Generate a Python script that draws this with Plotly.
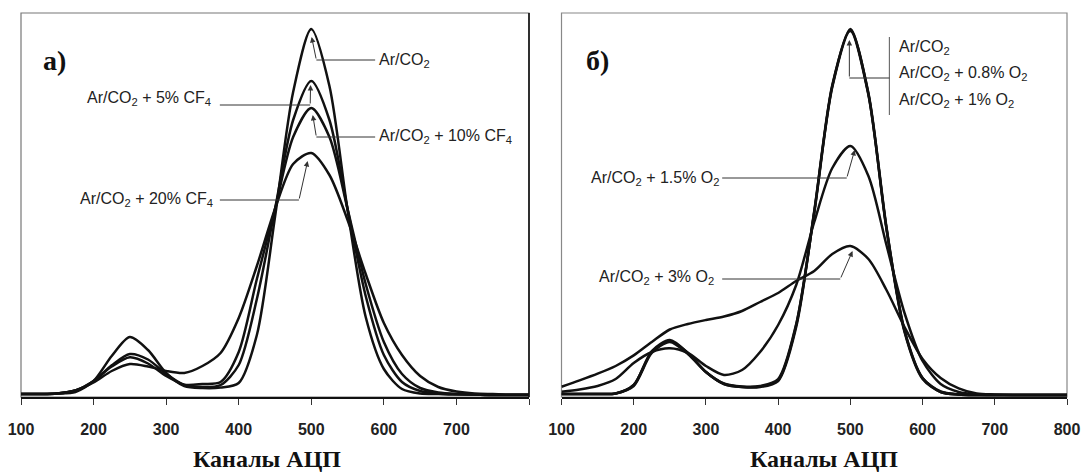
import plotly.graph_objects as go
from plotly.subplots import make_subplots

# ---------------- data (arbitrary counts) ----------------
channels = [100, 125, 150, 175, 200, 225, 250, 275, 300, 325, 350, 375, 400, 425, 450,
            475, 500, 525, 550, 575, 600, 625, 650, 675, 700, 725, 750, 775, 800]

# panel a) : CF4 admixtures
a_arco2 = [3, 3, 3.5, 5, 16, 41, 60, 47, 24, 11, 9, 9.5, 14, 62, 180, 305, 368, 311, 187, 80, 28, 8, 3.5, 3, 2.5, 2.5, 2, 2, 2]
a_cf4_5 = [3, 3, 3.5, 6.5, 15.6, 31.7, 43, 37.5, 23, 12, 10, 12, 32, 98, 188, 277, 316, 277, 188, 101, 42, 15, 6, 3.5, 3, 2.5, 2, 2, 2]
a_cf4_10 = [3, 3, 3.5, 6.5, 16, 30.5, 39.7, 33.5, 21, 12.4, 13, 15, 45, 118, 188, 260, 289, 260, 188, 113, 55, 23, 9, 4.5, 3, 2.5, 2, 2, 2]
a_cf4_20 = [3, 3, 3.5, 6.5, 14.5, 26, 33, 30.5, 26, 24, 31, 44, 79, 131, 188, 233, 244, 222, 177, 123, 74, 42, 21, 10, 5.5, 3.5, 3, 2.5, 2.5]

# panel б) : O2 admixtures
b_arco2 = [3, 3, 3, 3.5, 12, 46, 57, 44, 25, 13, 10, 10, 16, 70, 185, 311, 368, 303, 168, 65, 18, 5, 2.5, 2, 2, 2, 2, 2, 2]
b_o2_08 = [3, 3, 3, 3.5, 12, 45, 56, 44, 25, 13, 10, 10.5, 17, 72, 186, 312, 367, 304, 170, 66, 19, 5, 2.5, 2, 2, 2, 2, 2, 2]
b_o2_1 = [3, 3, 3, 3.5, 11, 44, 55, 43, 25, 13.5, 10.5, 11, 18, 73, 184, 310, 366, 302, 169, 67, 19, 5.5, 2.5, 2, 2, 2, 2, 2, 2]
b_o2_15 = [5.3, 7.5, 11, 18, 34, 45, 48.7, 44, 31, 22, 27, 45, 72, 112, 175, 229, 251, 221, 152, 84, 36, 13, 5, 2.5, 2, 2, 2, 2, 2]
b_o2_3 = [10.3, 16.6, 23.3, 31, 41.6, 55, 67.5, 73, 77, 80.5, 86, 95, 104, 116, 126, 143, 151, 138, 107, 70, 38, 19, 8.6, 3.5, 2.5, 2, 2, 2, 2]

tick_vals = [100, 200, 300, 400, 500, 600, 700, 800]
tick_text_a = ["100", "200", "300", "400", "500", "600", "700", ""]
tick_text_b = ["100", "200", "300", "400", "500", "600", "700", "800"]

series_a = [("Ar/CO2", a_arco2), ("Ar/CO2 + 5% CF4", a_cf4_5),
            ("Ar/CO2 + 10% CF4", a_cf4_10), ("Ar/CO2 + 20% CF4", a_cf4_20)]
series_b = [("Ar/CO2", b_arco2), ("Ar/CO2 + 0.8% O2", b_o2_08), ("Ar/CO2 + 1% O2", b_o2_1),
            ("Ar/CO2 + 1.5% O2", b_o2_15), ("Ar/CO2 + 3% O2", b_o2_3)]

x_title = "Каналы АЦП"

# ---------------- figure ----------------
W, H = 1083, 475
ML, MR, MT, MB = 21, 16, 13, 78
plot_w = W - ML - MR
dom_a = [0.0, (529 - ML) / plot_w]
dom_b = [(561.5 - ML) / plot_w, 1.0]

fig = make_subplots(rows=1, cols=2)
fig.update_xaxes(domain=dom_a, row=1, col=1)
fig.update_xaxes(domain=dom_b, row=1, col=2)

LINE = dict(color="#111111", width=2.5, shape="spline", smoothing=0.8)
for name, ys in series_a:
    fig.add_trace(go.Scatter(x=channels, y=ys, mode="lines", name=name, line=LINE,
                             showlegend=False), row=1, col=1)
for name, ys in series_b:
    fig.add_trace(go.Scatter(x=channels, y=ys, mode="lines", name=name, line=LINE,
                             showlegend=False), row=1, col=2)

TICKFONT = dict(family="Liberation Sans Narrow, Arial Narrow, Liberation Sans, Arial", size=16,
                color="#222222", weight="bold")
for col, ttext in ((1, tick_text_a), (2, tick_text_b)):
    fig.update_xaxes(range=[100, 800], tickvals=tick_vals, ticktext=ttext,
                     showline=True, linecolor="#111111", linewidth=1.5,
                     ticks="outside", ticklen=6, tickwidth=1.2, tickcolor="#333333",
                     ticklabelstandoff=11, tickfont=TICKFONT, automargin=False,
                     showgrid=False, zeroline=False, row=1, col=col)
    fig.update_yaxes(range=[0, 384], showticklabels=False, ticks="", showgrid=False,
                     zeroline=False, showline=False, automargin=False, row=1, col=col)

shapes = []
annotations = []

# frames
shapes.append(dict(type="rect", xref="x domain", yref="y domain", x0=0, x1=1, y0=0, y1=1,
                   line=dict(color="#777777", width=1.2), layer="below"))
shapes.append(dict(type="line", xref="x domain", yref="y domain", x0=1, x1=1, y0=0, y1=1,
                   line=dict(color="#222222", width=1.8), layer="below"))
shapes.append(dict(type="rect", xref="x2 domain", yref="y2 domain", x0=0, x1=1, y0=0, y1=1,
                   line=dict(color="#888888", width=1.2), layer="below"))

LBLFONT = dict(family="Liberation Sans Narrow, Arial Narrow, Liberation Sans, Arial", size=16,
               color="#222222")
LEAD = dict(color="#333333", width=1)


def label(xref, yref, x, y, text, anchor):
    annotations.append(dict(xref=xref, yref=yref, x=x, y=y, text=text, showarrow=False,
                            xanchor=anchor, yanchor="middle", font=LBLFONT))


def leader(xref, yref, x0, y0, x1, y1):
    shapes.append(dict(type="line", xref=xref, yref=yref, x0=x0, y0=y0, x1=x1, y1=y1, line=LEAD))


def arrow(xref, yref, xt, yt, xh, yh):
    annotations.append(dict(xref=xref, yref=yref, axref=xref, ayref=yref, x=xh, y=yh,
                            ax=xt, ay=yt, text="", showarrow=True, arrowhead=2,
                            arrowsize=1.1, arrowwidth=1, arrowcolor="#333333"))


# panel a) labels
label("x", "y", 590, 337, "Ar/CO<sub>2</sub>", "left")
leader("x", "y", 588, 337, 507, 337)
arrow("x", "y", 507, 337, 500.5, 360)

label("x", "y", 365, 299, "Ar/CO<sub>2</sub> + 5% CF<sub>4</sub>", "right")
leader("x", "y", 374, 292, 498.5, 292)
arrow("x", "y", 498.5, 292, 499, 312)

label("x", "y", 590, 261, "Ar/CO<sub>2</sub> + 10% CF<sub>4</sub>", "left")
leader("x", "y", 588, 260, 507, 260)
arrow("x", "y", 507, 260, 502, 282)

label("x", "y", 367, 198, "Ar/CO<sub>2</sub> + 20% CF<sub>4</sub>", "right")
leader("x", "y", 374, 197, 483, 197)
arrow("x", "y", 483, 197, 495, 236)

# panel б) labels
shapes.append(dict(type="line", xref="x2", yref="y2", x0=554, x1=554, y0=282, y1=360,
                   line=dict(color="#555555", width=1)))
label("x2", "y2", 564, 350, "Ar/CO<sub>2</sub>", "left")
label("x2", "y2", 564, 324, "Ar/CO<sub>2</sub> + 0.8% O<sub>2</sub>", "left")
label("x2", "y2", 564, 297, "Ar/CO<sub>2</sub> + 1% O<sub>2</sub>", "left")
leader("x2", "y2", 554, 319, 498.6, 319)
arrow("x2", "y2", 498.6, 319, 498.6, 357)

label("x2", "y2", 322, 219, "Ar/CO<sub>2</sub> + 1.5% O<sub>2</sub>", "right")
leader("x2", "y2", 322.5, 219, 495, 219)
arrow("x2", "y2", 495, 219, 506, 247)

label("x2", "y2", 314, 120, "Ar/CO<sub>2</sub> + 3% O<sub>2</sub>", "right")
leader("x2", "y2", 322.5, 118, 486, 118)
arrow("x2", "y2", 486, 118, 503, 146)

# panel letters
PANELFONT = dict(family="Liberation Serif, Times New Roman, serif", size=28, color="#111111",
                 weight="bold")
annotations.append(dict(xref="x", yref="y", x=128, y=337, text="а)", showarrow=False,
                        xanchor="left", yanchor="middle", font=PANELFONT))
annotations.append(dict(xref="x2", yref="y2", x=131, y=337, text="б)", showarrow=False,
                        xanchor="left", yanchor="middle", font=PANELFONT))

# axis titles
TITLEFONT = dict(family="Liberation Serif, Times New Roman, serif", size=24, color="#111111",
                 weight="bold")
annotations.append(dict(xref="x domain", yref="y domain", x=0.484, y=-0.162, text=x_title,
                        showarrow=False, xanchor="center", yanchor="middle", font=TITLEFONT))
annotations.append(dict(xref="x2 domain", yref="y2 domain", x=0.519, y=-0.162, text=x_title,
                        showarrow=False, xanchor="center", yanchor="middle", font=TITLEFONT))

fig.update_layout(width=W, height=H, margin=dict(l=ML, r=MR, t=MT, b=MB, autoexpand=False),
                  paper_bgcolor="white", plot_bgcolor="white", showlegend=False,
                  shapes=shapes, annotations=annotations)

fig.write_html("out.html")
